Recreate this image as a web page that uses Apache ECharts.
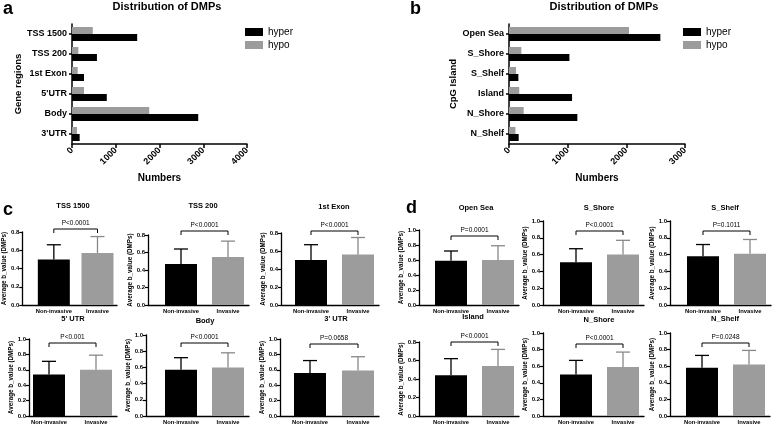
<!DOCTYPE html>
<html>
<head>
<meta charset="utf-8">
<script src="https://cdn.jsdelivr.net/npm/echarts@6/dist/echarts.min.js"></script>
<style>
  html, body { margin: 0; padding: 0; background: #fff; }
  #chart { width: 782px; height: 426px; }
</style>
</head>
<body>
<div id="chart"></div>
<script>
// ---- panel a / b : DMP counts ----
const geneRegions = ['TSS 1500', 'TSS 200', '1st Exon', "5'UTR", 'Body', "3'UTR"];
const geneHyper = [1490, 570, 275, 795, 2885, 175];
const geneHypo = [475, 145, 130, 275, 1765, 115];
const cpgRegions = ['Open Sea', 'S_Shore', 'S_Shelf', 'Island', 'N_Shore', 'N_Shelf'];
const cpgHyper = [2580, 1030, 160, 1075, 1165, 165];
const cpgHypo = [2045, 210, 120, 175, 250, 110];
const geneMax = 4000;
const cpgMax = 3000;

// ---- panel c / d : average b_value, mean and SD ----
const groups = ['Non-invasive', 'Invasive'];
const cTitles = ['TSS 1500', 'TSS 200', '1st Exon', "5' UTR", 'Body', "3' UTR"];
const cMean = [[0.50, 0.57], [0.47, 0.55], [0.50, 0.56], [0.54, 0.60], [0.57, 0.60], [0.56, 0.59]];
const cSD = [[0.16, 0.18], [0.17, 0.18], [0.17, 0.19], [0.17, 0.19], [0.15, 0.18], [0.16, 0.18]];
const cP = ['P<0.0001', 'P<0.0001', 'P<0.0001', 'P<0.001', 'P<0.0001', 'P=0.0658'];
const cYMax = [0.8, 0.8, 0.8, 1.0, 1.0, 1.0];
const dTitles = ['Open Sea', 'S_Shore', 'S_Shelf', 'Island', 'N_Shore', 'N_Shelf'];
const dMean = [[0.59, 0.60], [0.51, 0.60], [0.58, 0.61], [0.44, 0.54], [0.50, 0.59], [0.58, 0.62]];
const dSD = [[0.13, 0.19], [0.16, 0.17], [0.14, 0.17], [0.18, 0.18], [0.17, 0.18], [0.15, 0.17]];
const dP = ['P=0.0001', 'P<0.0001', 'P=0.1011', 'P<0.0001', 'P<0.0001', 'P=0.0248'];
const dYMax = [1.0, 1.0, 1.0, 0.8, 1.0, 1.0];

const FONT = 'Liberation Sans';
const BLACK = '#000';
const GRAY = '#9c9c9c';

// small panel frames (pixels): y axis x, bar centres, axis top / bottom, bracket y, title centre
const frames = [
  { ax: 15, c1: 49, c2: 96, yt: 232, y0: 305, br: 229, tx: 73, ty: 207 },
  { ax: 148, c1: 181, c2: 228, yt: 235, y0: 305, br: 231, tx: 203, ty: 207 },
  { ax: 281, c1: 311, c2: 358, yt: 233, y0: 305, br: 231, tx: 334, ty: 208 },
  { ax: 29, c1: 49, c2: 96, yt: 339, y0: 416, br: 343, tx: 73, ty: 320 },
  { ax: 146, c1: 181, c2: 228, yt: 335, y0: 416, br: 343, tx: 205, ty: 322 },
  { ax: 280, c1: 310, c2: 358, yt: 339, y0: 416, br: 344, tx: 336, ty: 320 },
  { ax: 419, c1: 451, c2: 498, yt: 230, y0: 305, br: 236, tx: 476, ty: 209 },
  { ax: 543, c1: 576, c2: 623, yt: 221, y0: 305, br: 231, tx: 599, ty: 209 },
  { ax: 670, c1: 703, c2: 750, yt: 221, y0: 305, br: 231, tx: 725, ty: 209 },
  { ax: 419, c1: 451, c2: 498, yt: 342, y0: 416, br: 342, tx: 473, ty: 318 },
  { ax: 543, c1: 576, c2: 623, yt: 333, y0: 416, br: 344, tx: 599, ty: 321 },
  { ax: 670, c1: 702, c2: 749, yt: 333, y0: 416, br: 343, tx: 725, ty: 320 },
];

const axLine = { show: true, lineStyle: { color: BLACK, width: 1.5 } };
const grid = [], xAxis = [], yAxis = [], series = [];
const title = [
  { text: 'a', left: 3, top: 0 },
  { text: 'b', left: 410, top: 0 },
  { text: 'c', left: 3, top: 201 },
  { text: 'd', left: 406, top: 199 },
].map(t => ({ ...t, padding: 0, textStyle: { fontFamily: FONT, fontSize: 18, fontWeight: 'bold', color: BLACK } }));

// distribution panels
function distPanel(left, width, cats, hyper, hypo, max, axisName, nameGap) {
  const gi = grid.length;
  grid.push({ left, top: 24, width, height: 120 });
  xAxis.push({
    gridIndex: gi, type: 'value', min: 0, max, interval: 1000,
    name: 'Numbers', nameLocation: 'middle', nameGap: 29,
    nameTextStyle: { fontFamily: FONT, fontSize: 10, fontWeight: 'bold', color: BLACK },
    axisLine: axLine, axisTick: { show: true, length: 4, lineStyle: { color: BLACK, width: 1.5 } },
    axisLabel: { rotate: 45, margin: 5, formatter: v => String(v), fontFamily: FONT, fontSize: 9, fontWeight: 'bold', color: BLACK },
    splitLine: { show: false },
  });
  yAxis.push({
    gridIndex: gi, type: 'category', data: cats, inverse: true,
    name: axisName, nameLocation: 'middle', nameGap,
    nameTextStyle: { fontFamily: FONT, fontSize: 9.5, fontWeight: 'bold', color: BLACK },
    axisLine: axLine, axisTick: { show: true, alignWithLabel: true, length: 3, lineStyle: { color: BLACK, width: 1.5 } },
    axisLabel: { margin: 5, fontFamily: FONT, fontSize: 9, fontWeight: 'bold', color: BLACK },
  });
  series.push(
    { name: 'hypo', type: 'bar', xAxisIndex: gi, yAxisIndex: gi, data: hypo, barWidth: 7, barGap: '0%', itemStyle: { color: GRAY } },
    { name: 'hyper', type: 'bar', xAxisIndex: gi, yAxisIndex: gi, data: hyper, barWidth: 7, barGap: '0%', itemStyle: { color: BLACK } },
  );
}
distPanel(72, 175, geneRegions, geneHyper, geneHypo, geneMax, 'Gene regions', 43);
distPanel(509, 176, cpgRegions, cpgHyper, cpgHypo, cpgMax, 'CpG Island', 46);
title.push(
  { text: 'Distribution of DMPs', left: 167, top: 1 },
  { text: 'Distribution of DMPs', left: 604, top: 1 },
);
title.forEach((t, i) => { if (i >= 4) Object.assign(t, { textAlign: 'center', padding: 0, textStyle: { fontFamily: FONT, fontSize: 11, fontWeight: 'bold', color: BLACK } }); });

// bar + SD panels
const smallTitles = cTitles.concat(dTitles);
const smallMean = cMean.concat(dMean);
const smallSD = cSD.concat(dSD);
const smallP = cP.concat(dP);
const smallMax = cYMax.concat(dYMax);

frames.forEach((f, k) => {
  const gi = grid.length;
  const s = f.c2 - f.c1;
  const xe = f.c2 + 21;
  grid.push({ left: f.ax, top: f.yt, width: xe - f.ax, height: f.y0 - f.yt });
  xAxis.push({
    gridIndex: gi, type: 'value', min: 1 - (f.c1 - f.ax) / s, max: 2 + (xe - f.c2) / s,
    axisLine: { show: true, lineStyle: { color: BLACK, width: 1.3 } },
    axisTick: { show: false }, splitLine: { show: false },
    axisLabel: {
      customValues: [1, 2], formatter: v => groups[Math.round(v) - 1], margin: 3,
      fontFamily: FONT, fontSize: 5.8, fontWeight: 'bold', color: BLACK,
    },
  });
  yAxis.push({
    gridIndex: gi, type: 'value', min: 0, max: smallMax[k], interval: 0.2,
    name: 'Average b_value (DMPs)', nameLocation: 'middle', nameGap: 13,
    nameTextStyle: { fontFamily: FONT, fontSize: 6.3, fontWeight: 'bold', color: BLACK },
    axisLine: { show: true, lineStyle: { color: BLACK, width: 1.3 } },
    axisTick: { show: true, length: 3, lineStyle: { color: BLACK, width: 1.2 } },
    axisLabel: { formatter: v => v.toFixed(1), margin: 3, fontFamily: FONT, fontSize: 6, fontWeight: 'bold', color: BLACK },
    splitLine: { show: false },
  });
  const means = smallMean[k], sds = smallSD[k];
  series.push({
    type: 'bar', xAxisIndex: gi, yAxisIndex: gi, barWidth: 32,
    data: groups.map((g, j) => ({ value: [j + 1, means[j]], itemStyle: { color: j ? GRAY : BLACK } })),
  });
  // SD whiskers (upper only)
  series.push({
    type: 'custom', xAxisIndex: gi, yAxisIndex: gi, clip: false, z: 3,
    data: groups.map((g, j) => [j + 1, means[j], means[j] + sds[j], j]),
    renderItem: (params, api) => {
      const p0 = api.coord([api.value(0), api.value(1)]);
      const p1 = api.coord([api.value(0), api.value(2)]);
      const col = api.value(3) ? '#888' : BLACK;
      const st = { stroke: col, lineWidth: 1.3 };
      return {
        type: 'group', children: [
          { type: 'line', shape: { x1: p0[0], y1: p0[1], x2: p1[0], y2: p1[1] }, style: st },
          { type: 'line', shape: { x1: p1[0] - 7, y1: p1[1], x2: p1[0] + 7, y2: p1[1] }, style: st },
        ],
      };
    },
  });
  // significance bracket
  series.push({
    type: 'custom', xAxisIndex: gi, yAxisIndex: gi, clip: false, z: 3,
    data: [[1, 2]],
    renderItem: (params, api) => {
      const x1 = api.coord([api.value(0), 0])[0];
      const x2 = api.coord([api.value(1), 0])[0];
      const y = f.br;
      return {
        type: 'group', children: [
          { type: 'polyline', shape: { points: [[x1, y + 4], [x1, y], [x2, y], [x2, y + 4]] }, style: { stroke: BLACK, lineWidth: 1, fill: null } },
          { type: 'text', style: { text: smallP[k], x: (x1 + x2) / 2, y: y - 2, align: 'center', verticalAlign: 'bottom', font: '6.5px ' + FONT, fill: BLACK } },
        ],
      };
    },
  });
  title.push({
    text: smallTitles[k], left: f.tx, top: f.ty - 5, textAlign: 'center', padding: 0,
    textStyle: { fontFamily: FONT, fontSize: 7.5, fontWeight: 'bold', color: BLACK },
  });
});

const legendBase = {
  orient: 'vertical', data: ['hyper', 'hypo'], icon: 'rect', itemWidth: 18, itemHeight: 8, itemGap: 3, padding: 0,
  textStyle: { fontFamily: FONT, fontSize: 10, color: BLACK },
};

const chart = echarts.init(document.getElementById('chart'));
chart.setOption({
  animation: false,
  textStyle: { fontFamily: FONT },
  title,
  legend: [{ ...legendBase, left: 245, top: 27 }, { ...legendBase, left: 683, top: 27 }],
  grid, xAxis, yAxis, series,
});
</script>
</body>
</html>
